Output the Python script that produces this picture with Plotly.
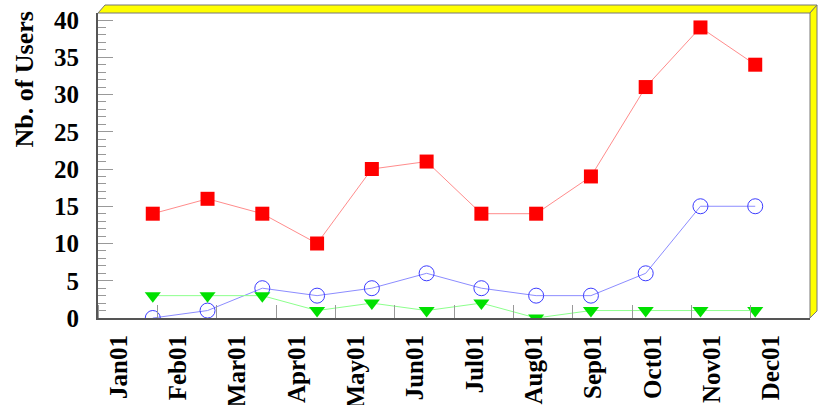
import plotly.graph_objects as go

months = ["Jan01", "Feb01", "Mar01", "Apr01", "May01", "Jun01",
          "Jul01", "Aug01", "Sep01", "Oct01", "Nov01", "Dec01"]
red_values = [14, 16, 14, 10, 20, 21, 14, 14, 19, 31, 39, 34]
blue_values = [0, 1, 4, 3, 4, 6, 4, 3, 3, 6, 15, 15]
green_values = [3, 3, 3, 1, 2, 1, 2, 0, 1, 1, 1, 1]
y_ticks = [0, 5, 10, 15, 20, 25, 30, 35, 40]

x_idx = list(range(len(months)))
x_lo, x_hi = -1, 12
slot = (x_hi - x_lo) / len(months)
label_pos = [x_lo + (j + 0.345) * slot for j in range(len(months))]

FONT = "Liberation Serif"

fig = go.Figure()
fig.add_trace(go.Scatter(
    x=x_idx, y=red_values, mode="lines+markers",
    line=dict(color="#ff8c8c", width=1),
    marker=dict(symbol="square", size=14, color="#ff0000", line=dict(width=0)),
))
fig.add_trace(go.Scatter(
    x=x_idx, y=blue_values, mode="lines+markers",
    line=dict(color="#8c8cff", width=1),
    marker=dict(symbol="circle-open", size=15, color="#3c3cff", line=dict(width=1)),
))
fig.add_trace(go.Scatter(
    x=x_idx, y=green_values, mode="lines+markers",
    line=dict(color="#8cff8c", width=1),
    marker=dict(symbol="triangle-down", size=14, color="#00e000", line=dict(width=0)),
))

dx = 7 / 712
dy = 8 / 305
dyb = 7 / 305
shapes = [
    dict(type="path", xref="paper", yref="paper",
         path=f"M 0,1 L 1,1 L {1+dx},{1+dy} L {dx},{1+dy} Z",
         fillcolor="#ffff00", line=dict(color="#777777", width=1), layer="above"),
    dict(type="path", xref="paper", yref="paper",
         path=f"M 1,1 L {1+dx},{1+dy} L {1+dx},{dyb} L 1,0 Z",
         fillcolor="#ffff00", line=dict(color="#777777", width=1), layer="above"),
]

fig.update_layout(
    width=821, height=405,
    margin=dict(l=98, r=11, t=13, b=87),
    paper_bgcolor="white", plot_bgcolor="white",
    showlegend=False,
    shapes=shapes,
    xaxis=dict(
        range=[x_lo, x_hi], showgrid=False, zeroline=False, automargin=False,
        showline=True, linecolor="#555555", linewidth=2,
        tickmode="array", tickvals=label_pos, ticktext=months,
        ticks="", tickangle=-90, ticklabelstandoff=5,
        tickfont=dict(family=FONT, size=25, color="black", weight="bold"),
        minor=dict(tick0=x_lo, dtick=slot, ticks="inside", ticklen=13,
                   tickcolor="#999999", tickwidth=1, showgrid=False),
    ),
    yaxis=dict(
        range=[0, 40.94], showgrid=False, zeroline=False, automargin=False,
        showline=True, linecolor="#555555", linewidth=2,
        tickmode="array", tickvals=y_ticks,
        ticks="inside", ticklen=15, tickcolor="#999999", tickwidth=1,
        tickfont=dict(family=FONT, size=25, color="black", weight="bold"),
        ticklabelstandoff=12,
        minor=dict(dtick=1, ticks="inside", ticklen=8, tickcolor="#999999",
                   tickwidth=1, showgrid=False),
    ),
    annotations=[dict(
        text="Nb. of Users", xref="paper", yref="paper",
        x=-0.103, y=1.015, xanchor="center", yanchor="top",
        textangle=-90, showarrow=False,
        font=dict(family=FONT, size=26, color="black", weight="bold"),
    )],
)

fig.write_html("out.html")
